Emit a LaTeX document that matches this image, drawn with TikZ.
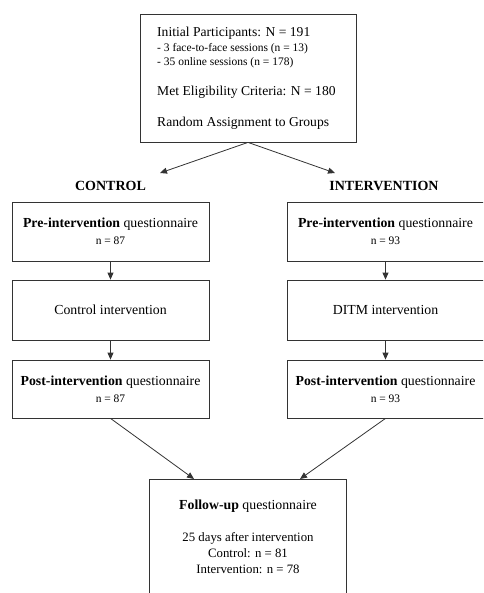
\documentclass[tikz,border=0pt]{standalone}
\usepackage{fontspec}
\setmainfont{Liberation Serif}
\usepackage{tikz}
\usetikzlibrary{arrows.meta,positioning}
\tikzset{
  stage/.style={ draw=black!80, line width=0.8pt, minimum width=197pt, align=center, inner sep=0pt, font=\fontsize{13.8}{17}\selectfont }
}
\tikzset{
  grouplbl/.style={ font=\fontsize{14}{16}\selectfont\bfseries }
}
\tikzset{
  infoline/.style={ anchor=west, inner sep=0pt }
}
\tikzset{
  arr/.style={ draw=black!80, line width=0.8pt, -{Triangle[length=7pt,width=6pt]} }
}
\newcommand{\smalln}{\fontsize{11.5}{13}\selectfont}
\newcommand{\bign}{\fontsize{13.6}{16}\selectfont}

\begin{document}
\begin{tikzpicture}[x=1pt, y=-1pt]
      \useasboundingbox (0,0) rectangle (483,593);
      \clip (0,0) rectangle (483,593);

      % recruitment
      \node[stage, minimum width=216pt, minimum height=128pt] (start) at (248, 78) {};
      \node[infoline, font=\bign] (init) at (157, 33) {Initial Participants: N = 191};
      \node[infoline, font=\smalln] (face) at (157, 49) {- 3 face-to-face sessions (n = 13)};
      \node[infoline, font=\smalln] (online) at (157, 63) {- 35 online sessions (n = 178)};
      \node[infoline, font=\bign] (elig) at (157, 92) {Met Eligibility Criteria: N = 180};
      \node[infoline, font=\bign] (rand) at (157, 123) {Random Assignment to Groups};

      \coordinate (toC) at (160, 173);
      \coordinate (toI) at (335, 173);
      \draw[arr] (start.south) -- (toC);
      \draw[arr] (start.south) -- (toI);

      \node[grouplbl] (lblC) at (110.5, 186) {CONTROL};
      \node[grouplbl] (lblI) at (384, 186) {INTERVENTION};

      % control arm
      \node[stage, minimum height=59pt] (preC) at (110.5, 231.5) {\textbf{Pre-intervention} questionnaire\\{\smalln n = 87}};
      \node[stage, minimum height=60pt] (midC) at (110.5, 310) {Control intervention};
      \node[stage, minimum height=58pt] (postC) at (110.5, 389) {\textbf{Post-intervention} questionnaire\\{\smalln n = 87}};
      \draw[arr] (preC) -- (midC);
      \draw[arr] (midC) -- (postC);

      % intervention arm
      \node[stage, minimum height=59pt] (preI) at (385.5, 231.5) {\textbf{Pre-intervention} questionnaire\\{\smalln n = 93}};
      \node[stage, minimum height=60pt] (midI) at (385.5, 310) {DITM intervention};
      \node[stage, minimum height=58pt] (postI) at (385.5, 389) {\textbf{Post-intervention} questionnaire\\{\smalln n = 93}};
      \draw[arr] (preI) -- (midI);
      \draw[arr] (midI) -- (postI);

      % follow-up
      \node[stage, minimum height=200pt] (follow) at (247.5, 579) {};
      \node[align=center, inner sep=0pt, font=\fontsize{12.8}{16}\selectfont] (fuText) at (248, 537)
        {{\fontsize{13.8}{16}\selectfont\textbf{Follow-up} questionnaire}\\[16pt]25 days after intervention\\Control: n = 81\\Intervention: n = 78};
      \coordinate (fromC) at (194, 479);
      \coordinate (fromI) at (300, 479);
      \draw[arr] (postC.south) -- (fromC);
      \draw[arr] (postI.south) -- (fromI);
    \end{tikzpicture}
\end{document}
